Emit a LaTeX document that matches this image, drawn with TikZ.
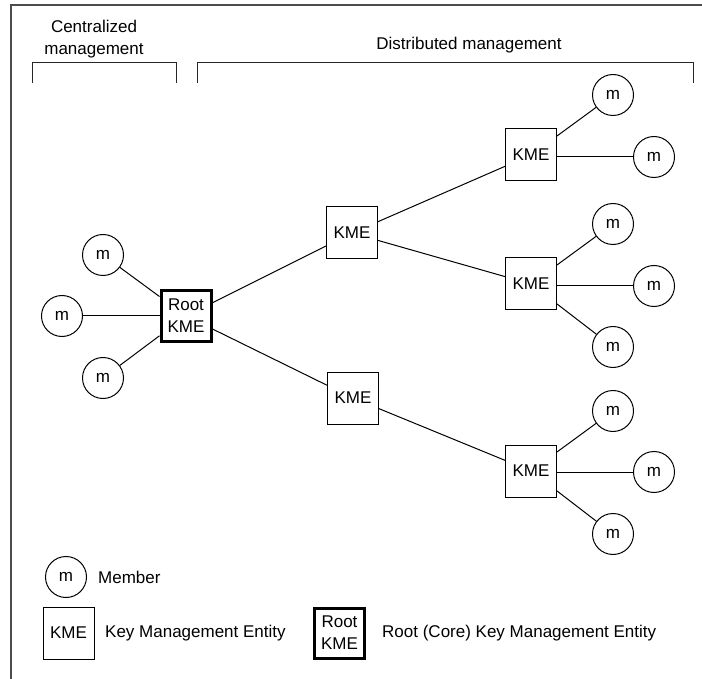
\documentclass[tikz,border=0pt]{standalone}
\usepackage{fontspec}
\setmainfont{Liberation Sans}
\begin{document}
\begin{tikzpicture}[x=1pt,y=-1pt,
  every node/.style={font=\fontsize{17}{22}\selectfont},
  member/.style={draw,circle,line width=1pt,minimum size=41pt,inner sep=0pt},
  kme/.style={draw,rectangle,line width=1pt,minimum width=51pt,minimum height=52pt,inner sep=0pt},
  rootkme/.style={draw,rectangle,line width=3pt,minimum width=50pt,minimum height=50pt,inner sep=0pt,align=center},
  link/.style={line width=1pt},
  frame/.style={line width=1.2pt,draw=black!70},
  bracket/.style={line width=1pt,draw=black!85},
  label/.style={anchor=west,inner sep=0pt}]
\useasboundingbox (0,0) rectangle (702,679);
% frame
\draw[frame] (11,679) -- (11,5) -- (702,5);
% brackets
\draw[bracket] (32,83) -- (32,63) -- (176,63) -- (176,83);
\draw[bracket] (197,83) -- (197,63) -- (693,63) -- (693,83);
\node[align=center,inner sep=0pt] (tc) at (94,39) {Centralized\\management};
\node[inner sep=0pt] (td) at (469,45) {Distributed management};
% root
\node[rootkme] (root) at (186,316) {Root\\KME};
\node[member] (ml1) at (103,255) {m};
\node[member] (ml2) at (62,316) {m};
\node[member] (ml3) at (103,378) {m};
% KMEs
\node[kme] (k1) at (352,233) {KME};
\node[kme] (k2) at (353,398) {KME};
\node[kme] (k3) at (531,155) {KME};
\node[kme] (k4) at (531,284) {KME};
\node[kme] (k5) at (531,471) {KME};
% members
\node[member] (m31) at (613,95) {m};
\node[member] (m32) at (654,157) {m};
\node[member] (m41) at (613,224) {m};
\node[member] (m42) at (654,286) {m};
\node[member] (m43) at (613,347) {m};
\node[member] (m51) at (613,411) {m};
\node[member] (m52) at (654,472) {m};
\node[member] (m53) at (613,534) {m};
% links
\draw[link] (ml1) -- (root);
\draw[link] (ml2) -- (root);
\draw[link] (ml3) -- (root);
\draw[link] (root) -- (k1);
\draw[link] (root) -- (k2);
\draw[link] (k1) -- (k3);
\draw[link] (k1) -- (k4);
\draw[link] (k2) -- (k5);
\draw[link] (k3) -- (m31);
\draw[link] (k3.east |- m32) -- (m32);
\draw[link] (k4) -- (m41);
\draw[link] (k4.east |- m42) -- (m42);
\draw[link] (k4) -- (m43);
\draw[link] (k5) -- (m51);
\draw[link] (k5.east |- m52) -- (m52);
\draw[link] (k5) -- (m53);
% legend
\node[member] (lm) at (66,577) {m};
\node[label] (lmt) at (98,577) {Member};
\node[kme] (lk) at (68.5,633) {KME};
\node[label] (lkt) at (105,633) {Key Management Entity};
\node[rootkme] (lr) at (339.5,633) {Root\\KME};
\node[label] (lrt) at (382,633) {Root (Core) Key Management Entity};
\end{tikzpicture}
\end{document}
